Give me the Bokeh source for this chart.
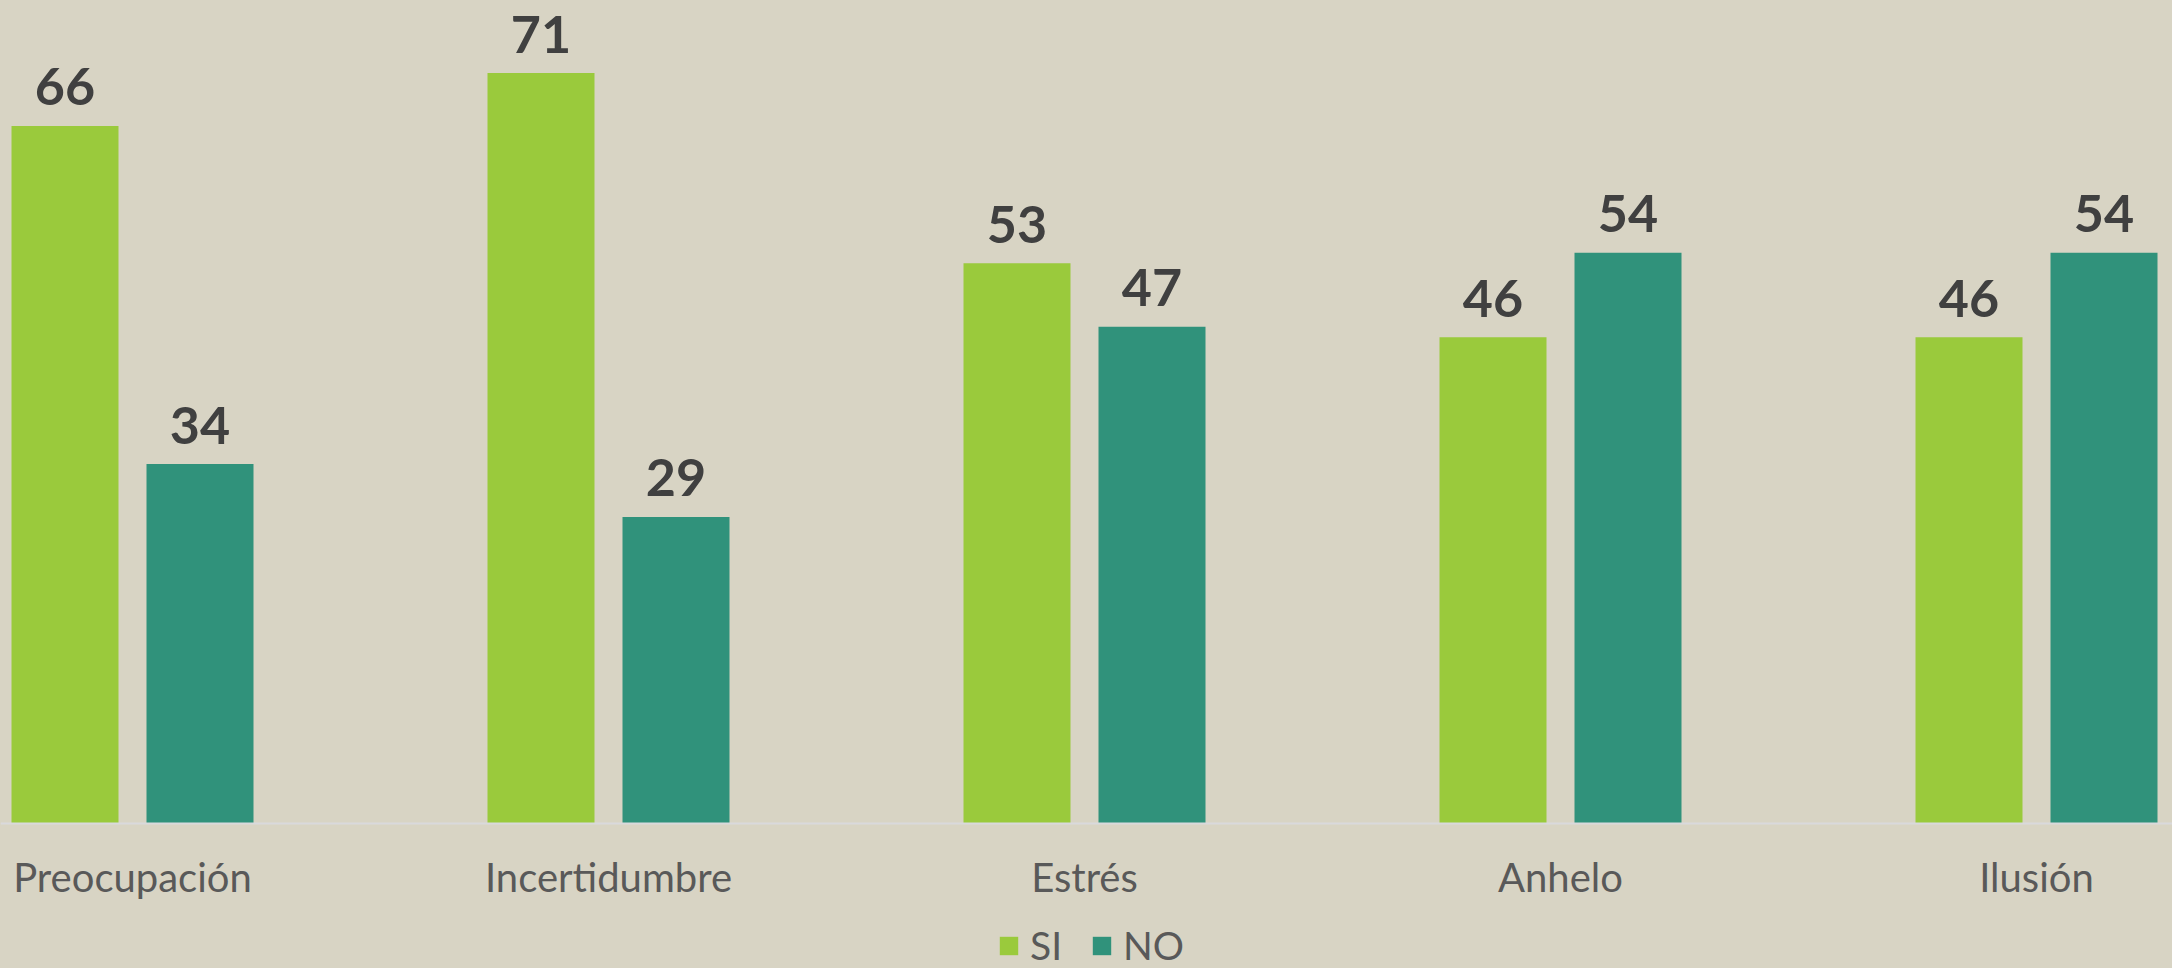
from bokeh.plotting import figure
from bokeh.models import ColumnDataSource, Range1d, LinearAxis, FixedTicker, Legend, LegendItem
from bokeh.transform import dodge
from bokeh.core.properties import value
from bokeh.embed import file_html
from bokeh.resources import INLINE

# ---- data ----
categories = ["Preocupación", "Incertidumbre", "Estrés", "Anhelo", "Ilusión"]
si_values = [66, 71, 53, 46, 46]
no_values = [34, 29, 47, 54, 54]
series_names = ["SI", "NO"]

# ---- style ----
BG = "#D8D4C4"
GREEN = "#9ACA3C"
TEAL = "#30927B"
VALUE_COLOR = "#404040"
LABEL_COLOR = "#595959"
W, H = 2172, 968
PX_PER_CAT = 476.0
FIRST_CENTER_PX = 132.0
BASE_PX = 823.0
PX_PER_UNIT = 10.57
OFFSET = 67.5 / PX_PER_CAT
BAR_W = 107.0 / PX_PER_CAT
LABEL_GAP = 39.0 / PX_PER_UNIT

src = ColumnDataSource(dict(
    x=list(range(len(categories))),
    si=si_values,
    no=no_values,
    si_y=[v + LABEL_GAP for v in si_values],
    no_y=[v + LABEL_GAP for v in no_values],
    si_lbl=[str(v) for v in si_values],
    no_lbl=[str(v) for v in no_values],
))

x0 = -FIRST_CENTER_PX / PX_PER_CAT
p = figure(
    width=W, height=H,
    x_range=Range1d(x0, x0 + W / PX_PER_CAT),
    y_range=Range1d(-(H - BASE_PX) / PX_PER_UNIT, BASE_PX / PX_PER_UNIT),
    output_backend="svg", toolbar_location=None,
    x_axis_location=None, y_axis_location=None,
    min_border=0, background_fill_color=BG, border_fill_color=BG,
    outline_line_color=None,
)
p.grid.visible = False

r_si = p.vbar(x=dodge("x", -OFFSET, range=p.x_range), top="si", width=BAR_W,
              source=src, fill_color=GREEN, line_color=None)
r_no = p.vbar(x=dodge("x", OFFSET, range=p.x_range), top="no", width=BAR_W,
              source=src, fill_color=TEAL, line_color=None)

axis = LinearAxis(
    fixed_location=0,
    ticker=FixedTicker(ticks=list(range(len(categories)))),
    major_label_overrides={i: c for i, c in enumerate(categories)},
)
axis.major_tick_line_color = None
axis.minor_tick_line_color = None
axis.axis_line_color = "#D9D9DC"
axis.axis_line_width = 2
axis.major_label_text_font = "Lato"
axis.major_label_text_font_size = "40px"
axis.major_label_text_color = LABEL_COLOR
axis.major_label_standoff = 23
p.add_layout(axis, "below")

for ycol, lbl, off in (("si_y", "si_lbl", -OFFSET), ("no_y", "no_lbl", OFFSET)):
    p.text(x=dodge("x", off, range=p.x_range), y=ycol, text=lbl, source=src,
           text_align="center", text_baseline="alphabetic",
           text_font=value("Lato"), text_font_style="bold",
           text_font_size="52px", text_color=VALUE_COLOR)

legend = Legend(
    items=[LegendItem(label=series_names[0], renderers=[r_si]),
           LegendItem(label=series_names[1], renderers=[r_no])],
    orientation="horizontal", location=(997, 0),
    glyph_width=23, glyph_height=23, label_height=23, label_standoff=10,
    spacing=28, padding=0, margin=0,
    background_fill_alpha=0, border_line_color=None,
    label_text_font="Lato", label_text_font_size="39px", label_text_color=LABEL_COLOR,
)
p.add_layout(legend)

html = file_html(p, INLINE)
html = html.replace("<head>", "<head><style>html,body{background:%s;}</style>" % BG, 1)
open("out.html", "w").write(html)
